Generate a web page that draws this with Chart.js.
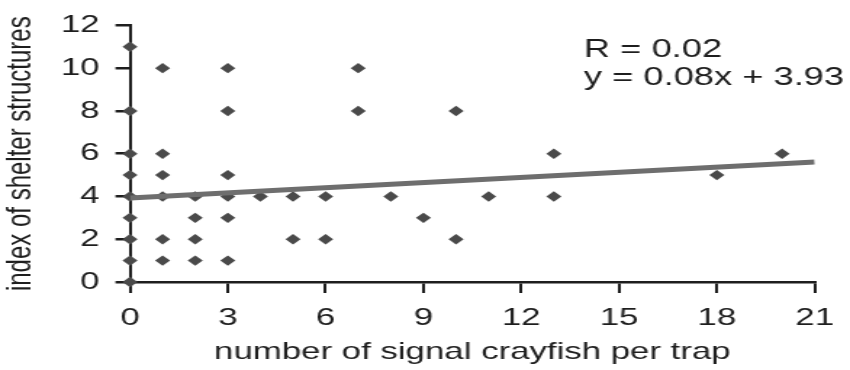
<!DOCTYPE html>
<html>
<head>
<meta charset="utf-8">
<script src="https://cdn.jsdelivr.net/npm/chart.js@4"></script>
<style>
    html, body { margin: 0; padding: 0; background: #fff; }
    #crayfishChart { display: block; }
</style>
</head>
<body>
<!-- the original figure is stretched sideways, so the canvas is too (inline style so Chart.js keeps it) -->
<canvas id="crayfishChart" width="586" height="370" style="width: 850px; height: 370px;"></canvas>
<script>
// signal crayfish per trap vs. shelter index, one entry per trap
const crayfishCounts = [0, 0, 0, 0, 0, 0, 0, 0, 0,
    1, 1, 1, 1, 1, 1,
    2, 2, 2, 2,
    3, 3, 3, 3, 3, 3,
    4, 5, 5, 6, 6, 7, 7, 8, 9, 10, 10, 11, 13, 13, 18, 20];
const shelterIndex = [0, 1, 2, 3, 4, 5, 6, 8, 11,
    10, 6, 5, 4, 2, 1,
    4, 3, 2, 1,
    10, 8, 5, 4, 3, 1,
    4, 4, 2, 4, 2, 10, 8, 4, 3, 8, 2, 4, 6, 4, 5, 6];

const fitSlope = 0.08;
const fitIntercept = 3.93;
const fitRange = [0, 21];
const fitLabels = ['R = 0.02', 'y = 0.08x + 3.93'];

const xTicks = [0, 3, 6, 9, 12, 15, 18, 21];
const yTicks = [0, 2, 4, 6, 8, 10, 12];

const STRETCH = 850 / 586; // css width / canvas width
const ink = '#1e1e1e';
const fontFamily = '"Liberation Sans", Arial, sans-serif';

document.addEventListener('DOMContentLoaded', function () {
    const points = crayfishCounts.map((x, i) => ({ x: x, y: shelterIndex[i] }));
    const fitLine = fitRange.map(x => ({ x: x, y: fitSlope * x + fitIntercept }));

    const fitTextPlugin = {
        id: 'fitText',
        afterDraw(chart) {
            const ctx = chart.ctx;
            ctx.save();
            ctx.fillStyle = ink;
            ctx.font = '25px ' + fontFamily;
            ctx.textAlign = 'left';
            ctx.textBaseline = 'alphabetic';
            fitLabels.forEach((t, i) => ctx.fillText(t, 584 / STRETCH, 57 + i * 28));
            ctx.restore();
        }
    };

    const ctx = document.getElementById('crayfishChart').getContext('2d');
    new Chart(ctx, {
        type: 'scatter',
        data: {
            datasets: [{
                type: 'line',
                data: fitLine,
                borderColor: '#6e6e6e',
                borderWidth: 5,
                pointRadius: 0,
                order: 0
            }, {
                data: points,
                pointStyle: 'rectRot',
                pointRadius: 5.2,
                backgroundColor: '#4a4a4a',
                borderWidth: 0,
                clip: false,
                order: 1
            }]
        },
        options: {
            responsive: false,
            animation: false,
            events: [],
            layout: { padding: { top: 18, right: 586 - 817 / STRETCH, left: 0, bottom: 0 } },
            plugins: { legend: { display: false }, tooltip: { enabled: false } },
            scales: {
                x: {
                    type: 'linear',
                    min: 0,
                    max: 21,
                    afterBuildTicks: scale => { scale.ticks = xTicks.map(v => ({ value: v })); },
                    afterFit: scale => { scale.height = 370 - 282; },
                    grid: { drawOnChartArea: false, tickLength: 11, lineWidth: 2, color: ink },
                    border: { color: ink, width: 2.5 },
                    ticks: { color: ink, font: { size: 24, family: fontFamily }, padding: 11, maxRotation: 0 },
                    title: {
                        display: true,
                        text: 'number of signal crayfish per trap',
                        color: ink,
                        font: { size: 24, family: fontFamily },
                        padding: { top: 0, bottom: 3 }
                    }
                },
                y: {
                    min: 0,
                    max: 12,
                    afterBuildTicks: scale => { scale.ticks = yTicks.map(v => ({ value: v })); },
                    afterFit: scale => { scale.width = 130 / STRETCH; },
                    grid: { drawOnChartArea: false, tickLength: 10, lineWidth: 2.5, color: ink },
                    border: { color: ink, width: 2 },
                    ticks: { color: ink, font: { size: 24, family: fontFamily }, padding: 11 },
                    title: {
                        display: true,
                        text: 'index of shelter structures',
                        color: ink,
                        font: { size: 24, family: fontFamily },
                        padding: { top: 0, bottom: 0 }
                    }
                }
            }
        },
        plugins: [fitTextPlugin]
    });
});
</script>
</body>
</html>
